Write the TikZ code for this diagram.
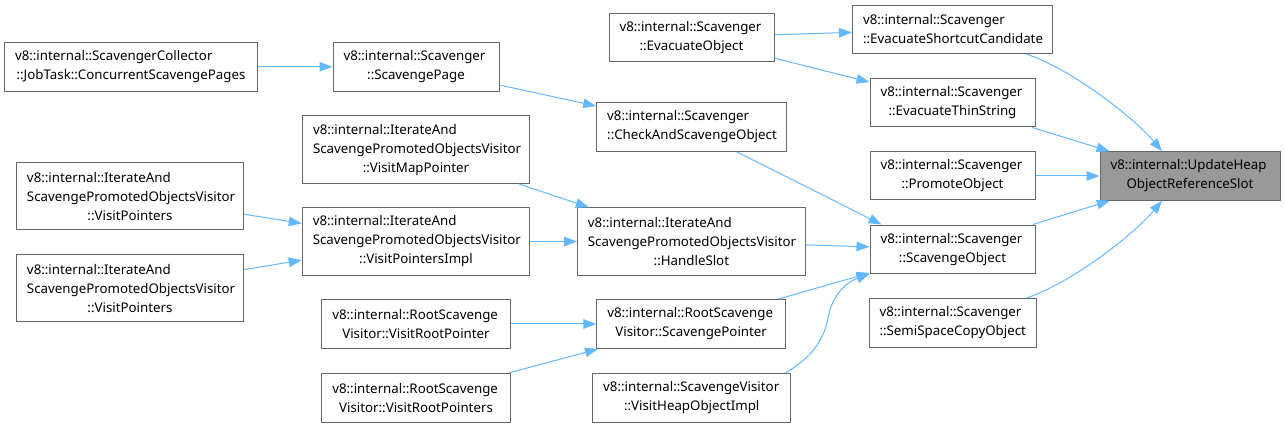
\documentclass[tikz,border=0pt]{standalone}
\usepackage{fontspec}
\setmainfont{Noto Sans}
\usetikzlibrary{arrows.meta}
\definecolor{edgeblue}{HTML}{63B8FF}
\definecolor{boxgray}{HTML}{666666}
\definecolor{hlgray}{HTML}{999999}
\newcommand\FL[1]{\makebox[\hsize][l]{#1}}
\begin{document}
\begin{tikzpicture}[x=1pt,y=-1pt,
  box/.style={draw=boxgray, line width=1pt, fill=white, inner xsep=10.5pt, inner ysep=0pt,
    align=center, font=\fontsize{13.3}{19}\selectfont, text=black},
  hl/.style={box, fill=hlgray},
  edge/.style={draw=edgeblue, line width=1pt, -{Triangle[length=13pt,width=9.5pt]}}]
\useasboundingbox (0,0) rectangle (1285,427);

% column 5
\node[hl, text width=159pt, minimum height=48.5pt] (uh) at (1190,176) {\FL{v8::internal::UpdateHeap}\\ObjectReferenceSlot};
% column 4
\node[box, text width=179pt, minimum height=48.5pt] (esc) at (952.5,29.3) {\FL{v8::internal::Scavenger}\\::EvacuateShortcutCandidate};
\node[box, text width=144pt, minimum height=48pt] (ets) at (952.5,103) {\FL{v8::internal::Scavenger}\\::EvacuateThinString};
\node[box, text width=144pt, minimum height=48pt] (po) at (952.5,176) {\FL{v8::internal::Scavenger}\\::PromoteObject};
\node[box, text width=144pt, minimum height=48.5pt] (so) at (952.5,249.3) {\FL{v8::internal::Scavenger}\\::ScavengeObject};
\node[box, text width=146pt, minimum height=48.5pt] (ssc) at (952.5,322.8) {\FL{v8::internal::Scavenger}\\::SemiSpaceCopyObject};
% column 3
\node[box, text width=144pt, minimum height=48.5pt] (eo) at (691.5,37.3) {\FL{v8::internal::Scavenger}\\::EvacuateObject};
\node[box, text width=169pt, minimum height=49pt] (cas) at (691.7,126.8) {\FL{v8::internal::Scavenger}\\::CheckAndScavengeObject};
\node[box, text width=207pt, minimum height=67.5pt] (hs) at (691.4,241.5) {\FL{v8::internal::IterateAnd}\\\FL{ScavengePromotedObjectsVisitor}\\::HandleSlot};
\node[box, text width=167.7pt, minimum height=49pt] (scp) at (691.2,324) {\FL{v8::internal::RootScavenge}\\Visitor::ScavengePointer};
\node[box, text width=177pt, minimum height=49pt] (vhoi) at (691.7,397.8) {\FL{v8::internal::ScavengeVisitor}\\::VisitHeapObjectImpl};
% column 2
\node[box, text width=145pt, minimum height=48.5pt] (sp) at (416,66.8) {\FL{v8::internal::Scavenger}\\::ScavengePage};
\node[box, text width=206pt, minimum height=67.5pt] (vmp) at (416,149.7) {\FL{v8::internal::IterateAnd}\\\FL{ScavengePromotedObjectsVisitor}\\::VisitMapPointer};
\node[box, text width=206.5pt, minimum height=67.5pt] (vpi) at (416,241.5) {\FL{v8::internal::IterateAnd}\\\FL{ScavengePromotedObjectsVisitor}\\::VisitPointersImpl};
\node[box, text width=167.4pt, minimum height=49pt] (vrp) at (416,324) {\FL{v8::internal::RootScavenge}\\Visitor::VisitRootPointer};
\node[box, text width=167.4pt, minimum height=49pt] (vrps) at (416,397.8) {\FL{v8::internal::RootScavenge}\\Visitor::VisitRootPointers};
% column 1
\node[box, text width=232pt, minimum height=48.5pt] (csp) at (131,66.8) {\FL{v8::internal::ScavengerCollector}\\::JobTask::ConcurrentScavengePages};
\node[box, text width=206pt, minimum height=67.5pt] (vp1) at (130,196.2) {\FL{v8::internal::IterateAnd}\\\FL{ScavengePromotedObjectsVisitor}\\::VisitPointers};
\node[box, text width=206pt, minimum height=67.5pt] (vp2) at (130,288.2) {\FL{v8::internal::IterateAnd}\\\FL{ScavengePromotedObjectsVisitor}\\::VisitPointers};

% edges into UpdateHeapObjectReferenceSlot
\draw[edge] ([xshift=74pt]esc.south) .. controls +(48.3,16.7) and +(-26.7,-32) .. ([xshift=-28pt]uh.north);
\draw[edge] (ets) -- (uh);
\draw[edge] (po) -- (uh);
\draw[edge] (so) -- (uh);
\draw[edge] ([xshift=74pt]ssc.north) .. controls +(48.3,-16.7) and +(-26.7,32) .. ([xshift=-28pt]uh.south);
% edges from EvacuateObject
\draw[edge] (eo) -- (esc);
\draw[edge] (eo) -- (ets);
% edges into ScavengeObject
\draw[edge] ([xshift=45pt]cas.south) -- ([xshift=12pt]so.north west);
\draw[edge] (hs) -- (so);
\draw[edge] (scp) -- (so);
\coordinate (vhmid) at (828,318);
\draw[edge] ([xshift=-5.7pt]vhoi.north east) .. controls +(30,-17) and +(-3,17) .. (vhmid) .. controls +(4,-23) and +(-23,8) .. (so.south west);
% other edges
\draw[edge] (sp) -- (cas);
\draw[edge] (csp) -- (sp);
\draw[edge] (vmp) -- (hs);
\draw[edge] (vpi) -- (hs);
\draw[edge] (vp1) -- (vpi);
\draw[edge] (vp2) -- (vpi);
\draw[edge] (vrp) -- (scp);
\draw[edge] (vrps) -- (scp);
\end{tikzpicture}
\end{document}
